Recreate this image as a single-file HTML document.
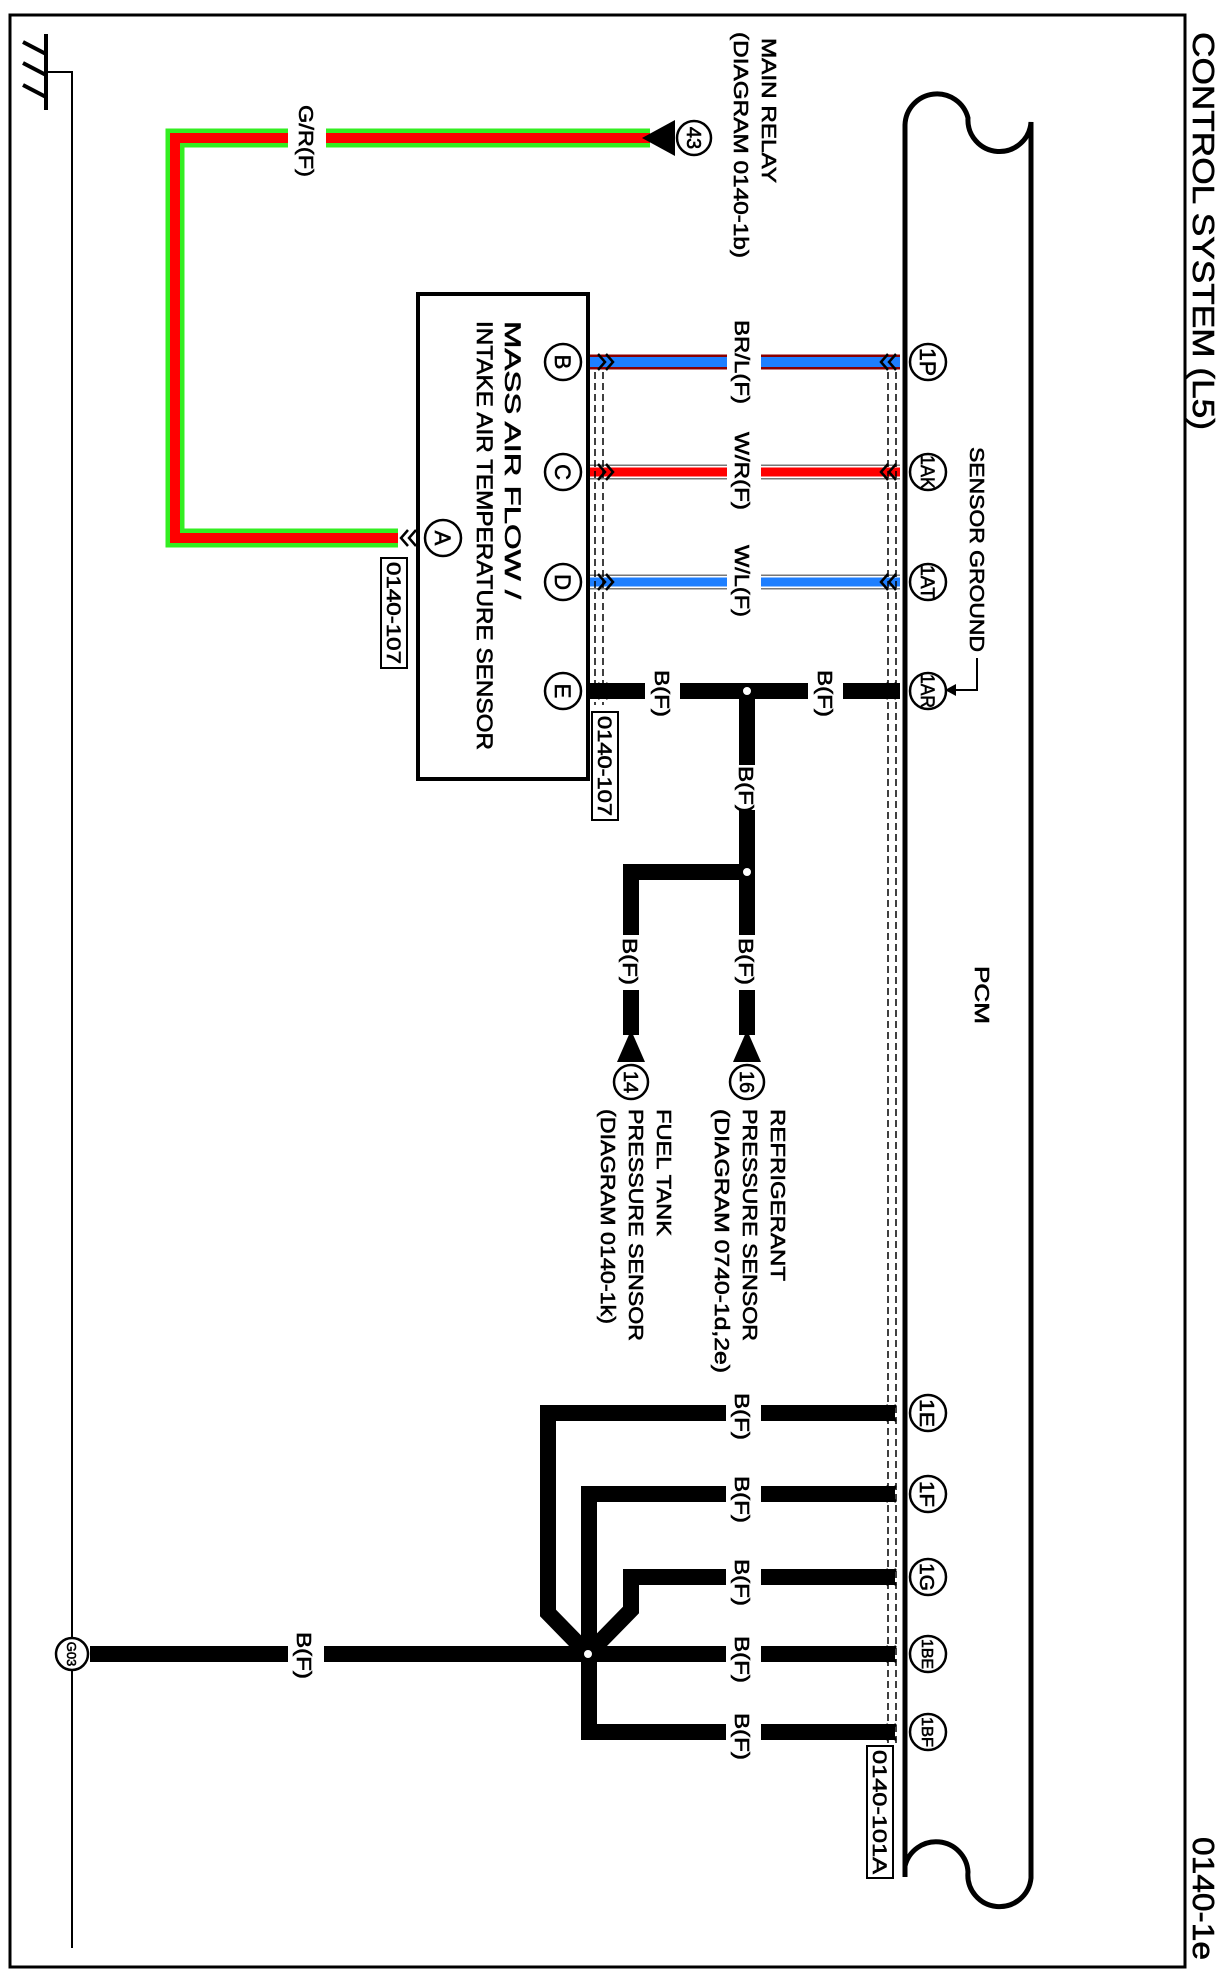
<!DOCTYPE html>
<html><head><meta charset="utf-8"><style>
html,body{margin:0;padding:0;background:#fff;}
svg{display:block;}
text{font-family:"Liberation Sans",Arial,sans-serif;fill:#000;stroke:#000;stroke-width:0.6;}
</style></head><body>
<svg width="1229" height="1980" viewBox="0 0 1229 1980" xmlns="http://www.w3.org/2000/svg">
<rect x="0" y="0" width="1229" height="1980" fill="#fff"/>
<rect x="10" y="15" width="1175" height="1952" fill="none" stroke="#000" stroke-width="3"/>
<text transform="translate(1193,32) rotate(90)" font-size="31" textLength="398" lengthAdjust="spacingAndGlyphs">CONTROL SYSTEM (L5)</text>
<text transform="translate(1193,1837) rotate(90)" font-size="31" textLength="123" lengthAdjust="spacingAndGlyphs">0140-1e</text>

<g stroke="#000" fill="none">
<line x1="46" y1="34" x2="46" y2="110" stroke-width="4"/>
<line x1="23" y1="42" x2="46" y2="54" stroke-width="4"/>
<line x1="23" y1="63" x2="46" y2="75" stroke-width="4"/>
<line x1="23" y1="85" x2="46" y2="97" stroke-width="4"/>
<polyline points="46,72 72,72 72,1948" stroke-width="2"/>
</g>

<path d="M905,1877 V125 A32,32 0 0 1 968,118 A31,31 0 0 0 1031,122 V1878 A31,31 0 0 1 968,1872 A32,32 0 0 0 905,1866" fill="none" stroke="#000" stroke-width="5"/>
<text transform="translate(975,966) rotate(90)" font-size="20" textLength="58" lengthAdjust="spacingAndGlyphs">PCM</text>
<text transform="translate(970,447) rotate(90)" font-size="20" textLength="205" lengthAdjust="spacingAndGlyphs">SENSOR GROUND</text>
<polyline points="977,658 977,690 955,690" fill="none" stroke="#000" stroke-width="2"/>
<polygon points="945,690 956,684 956,696" fill="#000"/>

<rect x="418" y="294" width="170" height="485" fill="#fff" stroke="#000" stroke-width="4"/>
<text transform="translate(505,321) rotate(90)" font-size="22" textLength="278" lengthAdjust="spacingAndGlyphs">MASS AIR FLOW /</text>
<text transform="translate(477,321) rotate(90)" font-size="22" textLength="429" lengthAdjust="spacingAndGlyphs">INTAKE AIR TEMPERATURE SENSOR</text>

<text transform="translate(762,38) rotate(90)" font-size="20" textLength="145" lengthAdjust="spacingAndGlyphs">MAIN RELAY</text>
<text transform="translate(734,32) rotate(90)" font-size="20" textLength="226" lengthAdjust="spacingAndGlyphs">(DIAGRAM 0140-1b)</text>

<path d="M650,138 H175 V538 H398" fill="none" stroke="#33ee22" stroke-width="19"/>
<path d="M650,138 H175 V538 H398" fill="none" stroke="#ff0000" stroke-width="10"/>
<rect x="288" y="120" width="38" height="40" fill="#fff"/>
<text transform="translate(299,105) rotate(90)" font-size="20" textLength="72" lengthAdjust="spacingAndGlyphs">G/R(F)</text>
<polygon points="642,138 675,120 675,156" fill="#000"/>

<g fill="none">
<line x1="590" y1="362" x2="900" y2="362" stroke="#8b0000" stroke-width="15"/>
<line x1="590" y1="362" x2="900" y2="362" stroke="#1e7fff" stroke-width="10"/>
<line x1="590" y1="472" x2="900" y2="472" stroke="#777" stroke-width="15"/>
<line x1="590" y1="472" x2="900" y2="472" stroke="#fff" stroke-width="12"/>
<line x1="590" y1="472" x2="900" y2="472" stroke="#ff0000" stroke-width="9"/>
<line x1="590" y1="582" x2="900" y2="582" stroke="#777" stroke-width="15"/>
<line x1="590" y1="582" x2="900" y2="582" stroke="#fff" stroke-width="12"/>
<line x1="590" y1="582" x2="900" y2="582" stroke="#1e7fff" stroke-width="9"/>
</g>

<g fill="none" stroke="#000" stroke-width="16" stroke-linejoin="miter">
<line x1="590" y1="691" x2="900" y2="691"/>
<line x1="747" y1="691" x2="747" y2="1035"/>
<polyline points="747,872 631,872 631,1035"/>
<polyline points="895,1413 548,1413 548,1613 588,1654"/>
<polyline points="895,1494 589,1494 589,1732 895,1732"/>
<polyline points="895,1577 631,1577 631,1610 588,1654"/>
<line x1="90" y1="1654" x2="895" y2="1654"/>
</g>

<g fill="#fff">
<rect x="727" y="350" width="34" height="25"/>
<rect x="727" y="460" width="34" height="25"/>
<rect x="727" y="570" width="34" height="25"/>
<rect x="645" y="680" width="35" height="22"/>
<rect x="808" y="680" width="35" height="22"/>
<rect x="735" y="765" width="25" height="45"/>
<rect x="735" y="935" width="25" height="55"/>
<rect x="619" y="935" width="25" height="55"/>
<rect x="726" y="1402" width="35" height="22"/>
<rect x="726" y="1483" width="35" height="22"/>
<rect x="726" y="1566" width="35" height="22"/>
<rect x="726" y="1643" width="35" height="22"/>
<rect x="726" y="1721" width="35" height="22"/>
<rect x="288" y="1643" width="36" height="22"/>
</g>

<g font-size="20">
<text transform="translate(735,320) rotate(90)" textLength="84" lengthAdjust="spacingAndGlyphs">BR/L(F)</text>
<text transform="translate(735,432) rotate(90)" textLength="78" lengthAdjust="spacingAndGlyphs">W/R(F)</text>
<text transform="translate(735,545) rotate(90)" textLength="72" lengthAdjust="spacingAndGlyphs">W/L(F)</text>
<text transform="translate(655,670) rotate(90)" textLength="47" lengthAdjust="spacingAndGlyphs">B(F)</text>
<text transform="translate(818,670) rotate(90)" textLength="47" lengthAdjust="spacingAndGlyphs">B(F)</text>
<text transform="translate(739,766) rotate(90)" textLength="47" lengthAdjust="spacingAndGlyphs">B(F)</text>
<text transform="translate(739,938) rotate(90)" textLength="47" lengthAdjust="spacingAndGlyphs">B(F)</text>
<text transform="translate(623,938) rotate(90)" textLength="47" lengthAdjust="spacingAndGlyphs">B(F)</text>
<text transform="translate(735,1393) rotate(90)" textLength="47" lengthAdjust="spacingAndGlyphs">B(F)</text>
<text transform="translate(735,1476) rotate(90)" textLength="47" lengthAdjust="spacingAndGlyphs">B(F)</text>
<text transform="translate(735,1559) rotate(90)" textLength="47" lengthAdjust="spacingAndGlyphs">B(F)</text>
<text transform="translate(735,1636) rotate(90)" textLength="47" lengthAdjust="spacingAndGlyphs">B(F)</text>
<text transform="translate(735,1713) rotate(90)" textLength="47" lengthAdjust="spacingAndGlyphs">B(F)</text>
<text transform="translate(297,1632) rotate(90)" textLength="47" lengthAdjust="spacingAndGlyphs">B(F)</text>
</g>

<g fill="#fff" stroke="#000" stroke-width="2">
<circle cx="747" cy="691" r="5"/>
<circle cx="747" cy="872" r="5"/>
<circle cx="588" cy="1654" r="5"/>
</g>

<g stroke="#000" stroke-width="1.5" stroke-dasharray="7,4" fill="none">
<line x1="595" y1="372" x2="595" y2="705"/>
<line x1="603" y1="372" x2="603" y2="705"/>
<line x1="888" y1="372" x2="888" y2="1745"/>
<line x1="896" y1="372" x2="896" y2="1745"/>
</g>

<g fill="none" stroke="#000" stroke-width="2.5">
<polyline points="598,354 605,362 598,370"/><polyline points="606,354 613,362 606,370"/>
<polyline points="598,464 605,472 598,480"/><polyline points="606,464 613,472 606,480"/>
<polyline points="598,574 605,582 598,590"/><polyline points="606,574 613,582 606,590"/>
<polyline points="598,683 605,691 598,699"/><polyline points="606,683 613,691 606,699"/>
<polyline points="888,354 881,362 888,370"/><polyline points="896,354 889,362 896,370"/>
<polyline points="888,464 881,472 888,480"/><polyline points="896,464 889,472 896,480"/>
<polyline points="888,574 881,582 888,590"/><polyline points="896,574 889,582 896,590"/>
<polyline points="888,683 881,691 888,699"/><polyline points="896,683 889,691 896,699"/>
<polyline points="888,1405 881,1413 888,1421"/><polyline points="896,1405 889,1413 896,1421"/>
<polyline points="888,1486 881,1494 888,1502"/><polyline points="896,1486 889,1494 896,1502"/>
<polyline points="888,1569 881,1577 888,1585"/><polyline points="896,1569 889,1577 896,1585"/>
<polyline points="888,1646 881,1654 888,1662"/><polyline points="896,1646 889,1654 896,1662"/>
<polyline points="888,1724 881,1732 888,1740"/><polyline points="896,1724 889,1732 896,1740"/>
<polyline points="408,530 401,538 408,546"/><polyline points="416,530 409,538 416,546"/>
</g>

<polygon points="747,1030 733,1062 761,1062" fill="#000"/>
<polygon points="631,1030 617,1062 645,1062" fill="#000"/>

<g fill="#fff" stroke="#000" stroke-width="2.5">
<circle cx="928" cy="362" r="18"/><circle cx="928" cy="472" r="18"/><circle cx="928" cy="582" r="18"/><circle cx="928" cy="691" r="18"/>
<circle cx="928" cy="1413" r="18"/><circle cx="928" cy="1494" r="18"/><circle cx="928" cy="1577" r="18"/><circle cx="928" cy="1654" r="18"/><circle cx="928" cy="1732" r="18"/>
<circle cx="563" cy="362" r="18"/><circle cx="563" cy="472" r="18"/><circle cx="563" cy="582" r="18"/><circle cx="563" cy="691" r="18"/>
<circle cx="443" cy="538" r="18"/>
<circle cx="694" cy="138" r="17"/>
<circle cx="747" cy="1082" r="17"/><circle cx="631" cy="1082" r="17"/>
<circle cx="72" cy="1654" r="16"/>
</g>
<g font-size="22" text-anchor="middle">
<text transform="translate(920,362) rotate(90)" textLength="28" lengthAdjust="spacingAndGlyphs">1P</text>
<text transform="translate(921,472) rotate(90)" font-size="19" textLength="34" lengthAdjust="spacingAndGlyphs">1AK</text>
<text transform="translate(921,582) rotate(90)" font-size="19" textLength="34" lengthAdjust="spacingAndGlyphs">1AT</text>
<text transform="translate(921,691) rotate(90)" font-size="19" textLength="34" lengthAdjust="spacingAndGlyphs">1AR</text>
<text transform="translate(920,1413) rotate(90)" font-size="20" textLength="28" lengthAdjust="spacingAndGlyphs">1E</text>
<text transform="translate(920,1494) rotate(90)" font-size="20" textLength="26" lengthAdjust="spacingAndGlyphs">1F</text>
<text transform="translate(920,1577) rotate(90)" font-size="20" textLength="28" lengthAdjust="spacingAndGlyphs">1G</text>
<text transform="translate(922,1654) rotate(90)" font-size="16" textLength="30" lengthAdjust="spacingAndGlyphs">1BE</text>
<text transform="translate(922,1732) rotate(90)" font-size="16" textLength="30" lengthAdjust="spacingAndGlyphs">1BF</text>
<text transform="translate(555,362) rotate(90)">B</text>
<text transform="translate(555,472) rotate(90)">C</text>
<text transform="translate(555,582) rotate(90)">D</text>
<text transform="translate(555,691) rotate(90)">E</text>
<text transform="translate(435,538) rotate(90)">A</text>
<text transform="translate(687,138) rotate(90)" font-size="20">43</text>
<text transform="translate(740,1082) rotate(90)" font-size="20">16</text>
<text transform="translate(624,1082) rotate(90)" font-size="20">14</text>
<text transform="translate(67,1654) rotate(90)" font-size="13">G03</text>
</g>

<g font-size="20">
<text transform="translate(771,1109) rotate(90)" textLength="172" lengthAdjust="spacingAndGlyphs">REFRIGERANT</text>
<text transform="translate(743,1109) rotate(90)" textLength="232" lengthAdjust="spacingAndGlyphs">PRESSURE SENSOR</text>
<text transform="translate(715,1109) rotate(90)" textLength="264" lengthAdjust="spacingAndGlyphs">(DIAGRAM 0740-1d,2e)</text>
<text transform="translate(657,1109) rotate(90)" textLength="127" lengthAdjust="spacingAndGlyphs">FUEL TANK</text>
<text transform="translate(629,1109) rotate(90)" textLength="232" lengthAdjust="spacingAndGlyphs">PRESSURE SENSOR</text>
<text transform="translate(601,1109) rotate(90)" textLength="215" lengthAdjust="spacingAndGlyphs">(DIAGRAM 0140-1k)</text>
</g>

<g fill="#fff" stroke="#000" stroke-width="2">
<rect x="381" y="558" width="26" height="110"/>
<rect x="592" y="712" width="26" height="108"/>
<rect x="867" y="1746" width="26" height="132"/>
</g>
<g font-size="19">
<text transform="translate(387,562) rotate(90)" textLength="102" lengthAdjust="spacingAndGlyphs">0140-107</text>
<text transform="translate(598,716) rotate(90)" textLength="100" lengthAdjust="spacingAndGlyphs">0140-107</text>
<text transform="translate(873,1750) rotate(90)" textLength="124" lengthAdjust="spacingAndGlyphs">0140-101A</text>
</g>
</svg>
</body></html>
